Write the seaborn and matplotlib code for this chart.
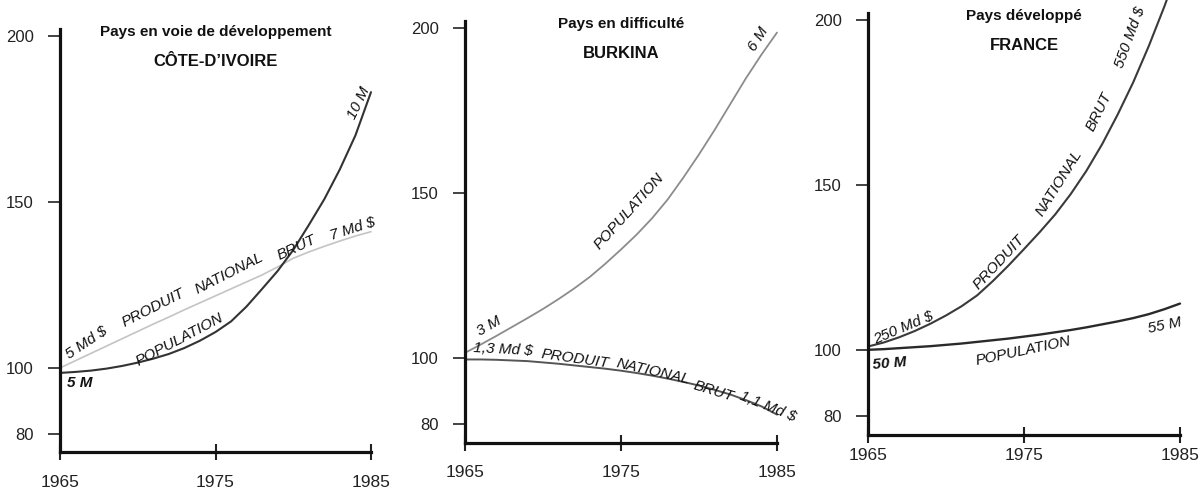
import matplotlib
matplotlib.use("Agg")
import matplotlib.pyplot as plt
import seaborn as sns

# ---------------- data (index 1965 = 100) ----------------
years = list(range(1965, 1986))

ci_population = [98.5, 98.8, 99.2, 99.8, 100.6, 101.6, 102.8, 104.2, 106.0, 108.2, 110.8,
                 114.0, 118.5, 123.8, 129.2, 135.5, 143.0, 150.8, 159.8, 170.0, 183.0]
ci_pnb = [100.0, 102.2, 104.4, 106.6, 108.8, 111.0, 113.2, 115.3, 117.5, 119.6, 121.7,
          123.8, 125.9, 128.0, 130.4, 133.0, 134.9, 136.6, 138.2, 139.7, 141.0]

bf_population = [101.5, 104.0, 106.6, 109.3, 112.0, 114.8, 117.8, 121.0, 124.5, 128.5, 132.8,
                 137.3, 142.3, 148.0, 154.6, 161.6, 169.0, 176.8, 184.6, 191.8, 198.5]
bf_pnb = [99.5, 99.5, 99.4, 99.2, 99.0, 98.6, 98.2, 97.7, 97.2, 96.7, 96.1,
          95.4, 94.6, 93.7, 92.7, 91.6, 90.3, 88.9, 87.2, 85.3, 82.8]

fr_population = [100.0, 100.2, 100.5, 100.8, 101.1, 101.5, 101.9, 102.4, 102.9, 103.4, 104.0,
                 104.6, 105.3, 106.0, 106.8, 107.7, 108.6, 109.6, 110.8, 112.3, 114.0]
fr_pnb = [101.0, 102.2, 103.8, 105.7, 107.9, 110.4, 113.2, 116.5, 120.8, 125.5, 130.5,
          135.6, 141.0, 147.2, 154.2, 162.2, 171.2, 181.0, 192.0, 204.0, 217.0]

y_ticks = [80, 100, 150, 200]
y_tick_labels = ["80", "100", "150", "200"]
x_ticks = [1965, 1975, 1985]
x_tick_labels = ["1965", "1975", "1985"]

subtitles = ["Pays en voie de développement", "Pays en difficulté", "Pays développé"]
countries = ["CÔTE-D’IVOIRE", "BURKINA", "FRANCE"]

# ---------------- style ----------------
sns.set_style("white")
FONT = ["Liberation Sans Narrow", "Liberation Sans", "DejaVu Sans"]
plt.rcParams["font.family"] = FONT

W, H = 1203, 492
fig = plt.figure(figsize=(W / 100, H / 100), dpi=100)
fig.patch.set_facecolor("white")

def rect(left_px, bottom_px, width_px, top_px):
    return [left_px / W, (H - bottom_px) / H, width_px / W, (bottom_px - top_px) / H]

panels = [
    dict(rect=rect(60, 452, 311, 29), ylim=(74.7, 202), pop=ci_population, pnb=ci_pnb,
         pop_style=dict(color="#333333", linewidth=1.5),
         pnb_style=dict(color="#c4c4c4", linewidth=1.2), xpad=11,
         labels=[("5 Md \\$", 1966.74, 107.5, 34, "normal"),
                 ("PRODUIT", 1971.0, 118.1, 27, "normal"),
                 ("NATIONAL", 1975.9, 128.6, 27, "normal"),
                 ("BRUT", 1980.2, 136.1, 25, "normal"),
                 ("7 Md \\$", 1983.8, 141.9, 18, "normal"),
                 ("10 M", 1984.2, 179.8, 64, "normal"),
                 ("POPULATION", 1972.7, 108.4, 28, "normal"),
                 ("5 M", 1966.3, 95.5, 0, "bold")]),
    dict(rect=rect(465, 443, 312, 21), ylim=(74.2, 202), pop=bf_population, pnb=bf_pnb,
         pop_style=dict(color="#8c8c8c", linewidth=1.3),
         pnb_style=dict(color="#555555", linewidth=1.4), xpad=10,
         labels=[("3 M", 1966.54, 109.5, 30, "normal"),
                 ("1,3 Md \\$", 1967.46, 102.5, -3, "normal"),
                 ("PRODUIT", 1972.07, 99.7, -8, "normal"),
                 ("NATIONAL", 1977.07, 95.85, -13, "normal"),
                 ("BRUT", 1980.96, 89.8, -17, "normal"),
                 ("1,1 Md \\$", 1984.4, 85.3, -22, "normal"),
                 ("POPULATION", 1975.5, 144.5, 48, "normal"),
                 ("6 M", 1983.8, 196.4, 58, "normal")]),
    dict(rect=rect(868, 435, 312, 13), ylim=(74.2, 202), pop=fr_population, pnb=fr_pnb,
         pop_style=dict(color="#2a2a2a", linewidth=1.7),
         pnb_style=dict(color="#3a3a3a", linewidth=1.5), xpad=4,
         labels=[("250 Md \\$", 1967.3, 106.5, 23, "normal"),
                 ("50 M", 1966.4, 95.9, 5, "bold"),
                 ("POPULATION", 1974.96, 99.5, 12, "normal"),
                 ("55 M", 1984.0, 107.3, 12, "normal"),
                 ("PRODUIT", 1973.4, 126.4, 47, "normal"),
                 ("NATIONAL", 1977.24, 150.6, 58, "normal"),
                 ("BRUT", 1979.8, 172.0, 64, "normal"),
                 ("550 Md \\$", 1981.8, 194.5, 70, "normal")]),
]

for i, p in enumerate(panels):
    ax = fig.add_axes(p["rect"])
    ax.set_facecolor("white")
    sns.lineplot(x=years, y=p["pnb"], ax=ax, clip_on=False, **p["pnb_style"])
    sns.lineplot(x=years, y=p["pop"], ax=ax, clip_on=False, **p["pop_style"])
    ax.set_xlim(1965, 1985)
    ax.set_ylim(*p["ylim"])
    ax.set_xlabel("")
    ax.set_ylabel("")
    for s in ("top", "right"):
        ax.spines[s].set_visible(False)
    for s in ("left", "bottom"):
        ax.spines[s].set_linewidth(2.3)
        ax.spines[s].set_color("#111111")
    ax.set_yticks(y_ticks)
    ax.set_yticklabels(y_tick_labels)
    ax.set_xticks(x_ticks)
    ax.set_xticklabels(x_tick_labels)
    ax.tick_params(axis="y", direction="out", length=9, width=1.2, pad=10,
                   labelsize=12, colors="#222222", left=True)
    ax.tick_params(axis="x", direction="inout", length=11, width=1.5, pad=p["xpad"],
                   labelsize=12.5, colors="#222222", bottom=True)
    ax.text(1975, 201, subtitles[i], ha="center", va="center", fontsize=11,
            fontweight="bold", color="#111111")
    ax.text(1975, 192.3, countries[i], ha="center", va="center", fontsize=12,
            fontweight="bold", color="#111111")
    for (txt, x, y, rot, wt) in p["labels"]:
        ax.text(x, y, txt, rotation=rot, rotation_mode="anchor", ha="center", va="center",
                fontsize=11, fontstyle="italic", fontweight=wt, color="#111111",
                clip_on=False)

fig.savefig("out.png", dpi=100, facecolor="white")
